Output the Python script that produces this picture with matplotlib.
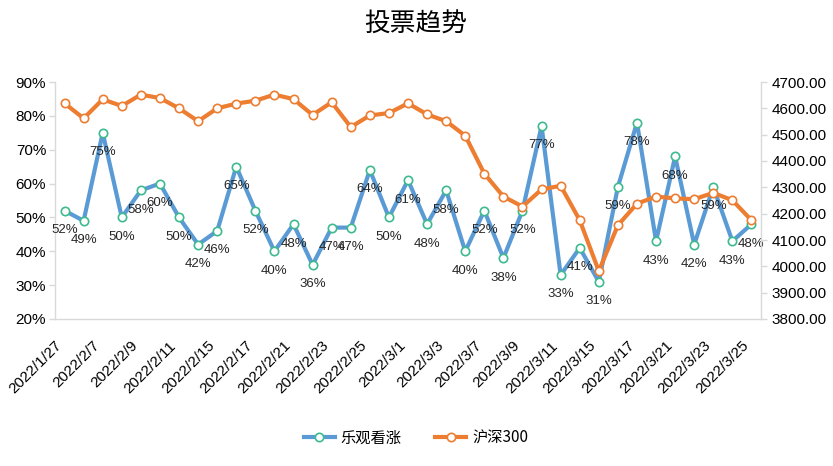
import matplotlib
matplotlib.use("Agg")
import matplotlib.pyplot as plt
from matplotlib.ticker import FuncFormatter, MultipleLocator
from matplotlib.lines import Line2D

dates = ["2022/1/27", "2022/1/28", "2022/2/7", "2022/2/8", "2022/2/9", "2022/2/10",
         "2022/2/11", "2022/2/14", "2022/2/15", "2022/2/16", "2022/2/17", "2022/2/18",
         "2022/2/21", "2022/2/22", "2022/2/23", "2022/2/24", "2022/2/25", "2022/2/28",
         "2022/3/1", "2022/3/2", "2022/3/3", "2022/3/4", "2022/3/7", "2022/3/8",
         "2022/3/9", "2022/3/10", "2022/3/11", "2022/3/14", "2022/3/15", "2022/3/16",
         "2022/3/17", "2022/3/18", "2022/3/21", "2022/3/22", "2022/3/23", "2022/3/24",
         "2022/3/25"]
bullish_pct = [52, 49, 75, 50, 58, 60, 50, 42, 46, 65, 52, 40, 48, 36, 47, 47, 64, 50,
               61, 48, 58, 40, 52, 38, 52, 77, 33, 41, 31, 59, 78, 43, 68, 42, 59, 43, 48]
csi300 = [4619, 4562, 4634, 4609, 4652, 4639, 4600, 4551, 4600, 4618, 4629, 4652,
          4635, 4575, 4623, 4529, 4573, 4582, 4619, 4577, 4551, 4496, 4352, 4265,
          4227, 4292, 4306, 4175, 3982, 4156, 4238, 4265, 4258, 4255, 4279, 4251, 4175]

title = "投票趋势"
series_names = ["乐观看涨", "沪深300"]

BLUE = "#5B9BD5"
GREEN = "#3DBB8E"
ORANGE = "#ED7D31"
GRID = "#D9D9D9"
CJK = ["Noto Sans CJK SC", "DejaVu Sans"]
NUM = ["Liberation Sans", "DejaVu Sans"]

fig = plt.figure(figsize=(8.33, 4.66), dpi=100)
W, H = 833, 466
ax = fig.add_axes([55 / W, 1 - 319 / H, (761 - 55) / W, (319 - 82) / H])
ax2 = ax.twinx()

x = list(range(len(dates)))
ax.plot(x, [v / 100 for v in bullish_pct], color=BLUE, lw=3.0, marker="o", ms=6,
        mfc="white", mec=GREEN, mew=1.2, zorder=3, solid_joinstyle="round")
for xi, v in zip(x, bullish_pct):
    ax.annotate(f"{v}%", (xi, v / 100), xytext=(0, -14), textcoords="offset points",
                ha="center", va="center", fontsize=9.5, color="#262626", family=NUM,
                zorder=4)

ax2.plot(x, csi300, color=ORANGE, lw=3.0, marker="o", ms=6, mfc="white", mec=ORANGE,
         mew=1.2, zorder=3, solid_joinstyle="round")

ax.set_xlim(-0.5, len(dates) - 0.5)
ax.set_ylim(0.2, 0.9)
ax.yaxis.set_major_locator(MultipleLocator(0.1))
ax.yaxis.set_major_formatter(FuncFormatter(lambda v, p: f"{v * 100:.0f}%"))
ax2.set_ylim(3800, 4700)
ax2.yaxis.set_major_locator(MultipleLocator(100))
ax2.yaxis.set_major_formatter(FuncFormatter(lambda v, p: f"{v:.2f}"))

ax.set_xticks(x[::2])
ax.set_xticklabels(dates[::2], rotation=45, ha="right", fontsize=11, family=NUM)
ax.tick_params(axis="x", length=0, pad=14, colors="#000000")
ax.tick_params(axis="y", length=4.3, width=1, color=GRID, pad=2, labelsize=11,
               labelcolor="#000000")
ax2.tick_params(axis="y", length=4.3, width=1, color=GRID, pad=3, labelsize=11,
                labelcolor="#000000")
for lab in ax.get_yticklabels() + ax2.get_yticklabels():
    lab.set_family(NUM)

for a in (ax, ax2):
    a.spines["top"].set_visible(False)
    for s in ("left", "right", "bottom"):
        a.spines[s].set_color(GRID)
        a.spines[s].set_linewidth(1)
ax.spines["right"].set_visible(False)
ax2.spines["left"].set_visible(False)
ax2.spines["bottom"].set_visible(False)

fig.text(416 / W, 1 - 25 / H, title, ha="center", va="center", fontsize=18.5,
         family=CJK, color="#000000")

handles = [Line2D([], [], color=BLUE, lw=3.0, marker="o", ms=6, mfc="white", mec=GREEN, mew=1.2),
           Line2D([], [], color=ORANGE, lw=3.0, marker="o", ms=6, mfc="white", mec=ORANGE, mew=1.2)]
fig.legend(handles, series_names, loc="center", bbox_to_anchor=(416 / W, 1 - 438 / H),
           ncol=2, frameon=False, prop={"family": CJK, "size": 11}, handlelength=2.0,
           columnspacing=2.2, handletextpad=0.4)

fig.savefig("out.png", dpi=100, facecolor="white")
